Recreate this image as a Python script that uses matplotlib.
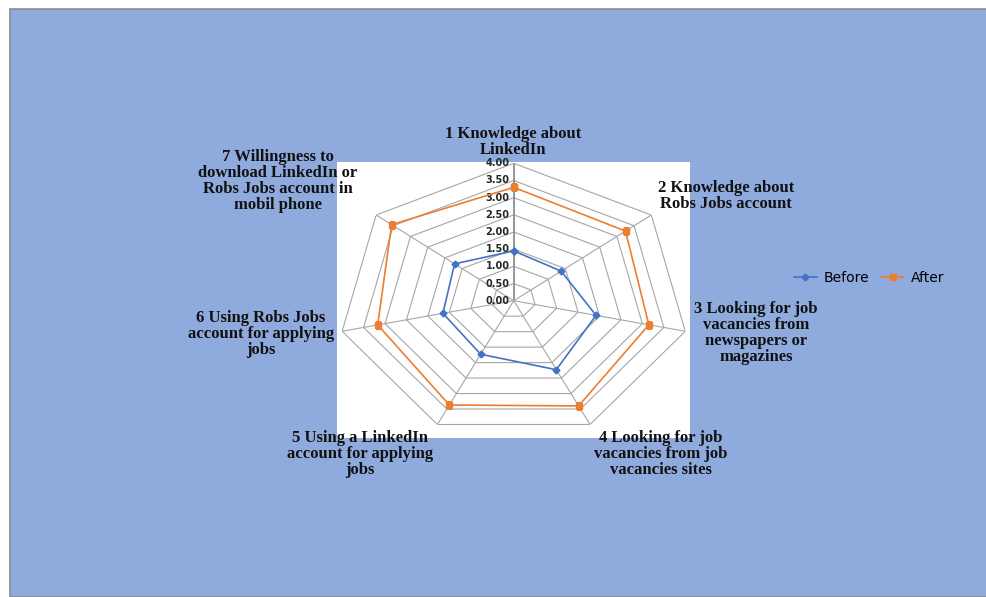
import numpy as np
import matplotlib
matplotlib.use('Agg')
import matplotlib.pyplot as plt
from matplotlib.patches import Rectangle
from matplotlib.lines import Line2D

labels = [
    '1 Knowledge about\nLinkedIn',
    '2 Knowledge about\nRobs Jobs account',
    '3 Looking for job\nvacancies from\nnewspapers or\nmagazines',
    '4 Looking for job\nvacancies from job\nvacancies sites',
    '5 Using a LinkedIn\naccount for applying\njobs',
    '6 Using Robs Jobs\naccount for applying\njobs',
    '7 Willingness to\ndownload LinkedIn or\nRobs Jobs account in\nmobil phone',
]
before = [1.45, 1.38, 1.92, 2.23, 1.73, 1.65, 1.72]
after = [3.30, 3.25, 3.15, 3.40, 3.37, 3.17, 3.55]
levels = [0.0, 0.5, 1.0, 1.5, 2.0, 2.5, 3.0, 3.5, 4.0]

# label centres in pixels (x, y from top)
label_pos = [(513, 142), (726, 196), (756, 333), (661, 454),
             (360, 454), (261, 334), (278, 181)]

W, H = 986, 597
fig = plt.figure(figsize=(W / 100, H / 100), dpi=100, facecolor='white')

# blue chart background and white plot area
fig.add_artist(Rectangle((10 / W, 0), 1, 1 - 9 / H, transform=fig.transFigure,
                         facecolor='#8FAADC', edgecolor='#8c8c8c', lw=1.2, zorder=-2))
fig.add_artist(Rectangle((337 / W, 1 - 438 / H), 353 / W, 276 / H,
                         transform=fig.transFigure, facecolor='white',
                         edgecolor='none', zorder=-1))

ax = fig.add_axes([337.7 / W, 1 - 438.1 / H, 352 / W, 274.8 / H], projection='polar')
ax.set_aspect('auto')
ax.set_theta_zero_location('N')
ax.set_theta_direction(-1)
ax.set_ylim(0, 4)
ax.set_xticks([])
ax.set_yticks([])
ax.grid(False)
ax.spines['polar'].set_visible(False)
ax.patch.set_alpha(0)

n = len(labels)
theta = np.arange(n) * 2 * np.pi / n
theta_c = np.append(theta, theta[0])

for lv in levels[1:]:
    ax.plot(theta_c, [lv] * (n + 1), color='#a6a6a6', lw=0.8, zorder=1)
for i, t in enumerate(theta):
    if i == 0:
        ax.plot([t, t], [0, 4], color='#8c8c8c', lw=1.3, zorder=1)
    else:
        ax.plot([t, t], [0, 4], color='#a6a6a6', lw=0.8, zorder=1)

for lv in levels:
    ax.annotate('%.2f' % lv, xy=(0, lv), xytext=(-3, 0), textcoords='offset points',
                ha='right', va='center', fontsize=7, fontweight='bold',
                color='#262626')

ax.plot(theta_c, before + before[:1], color='#4472C4', lw=1.2, marker='D',
        markersize=3.5, zorder=3)
ax.plot(theta_c, after + after[:1], color='#ED7D31', lw=1.2, marker='s',
        markersize=5, zorder=3)

for lab, (px, py) in zip(labels, label_pos):
    fig.text(px / W, 1 - py / H, lab, ha='center', va='center',
             fontsize=12, fontweight='bold', family='Liberation Serif',
             linespacing=1.0, color='#111111')

handles = [Line2D([], [], color='#4472C4', lw=1.2, marker='D', markersize=3.5),
           Line2D([], [], color='#ED7D31', lw=1.2, marker='s', markersize=5)]
fig.legend(handles, ['Before', 'After'], loc='center left',
           bbox_to_anchor=(781 / W, 1 - 278 / H), ncol=2, frameon=False,
           fontsize=10, handlelength=1.7, columnspacing=0.8, handletextpad=0.5)

fig.savefig('out.png', dpi=100)
